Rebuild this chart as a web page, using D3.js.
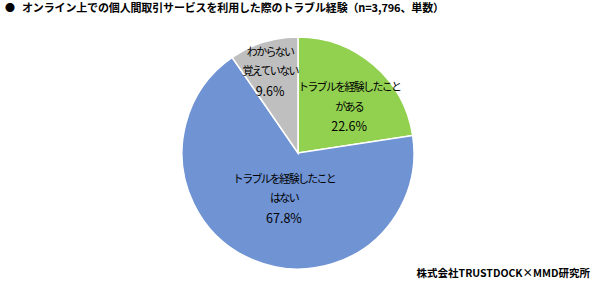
<!DOCTYPE html>
<html>
<head>
<meta charset="utf-8">
<script src="https://cdn.jsdelivr.net/npm/d3@7"></script>
<style>
  body { margin: 0; background: #fff; }
  svg { display: block; font-family: "Noto Sans CJK JP", "Noto Sans", sans-serif; }
</style>
</head>
<body>
<figure id="chart" style="margin:0"></figure>
<script>
// slice data
const categories = ["トラブルを経験したことがある", "トラブルを経験したことはない", "わからない・覚えていない"];
const values = [22.6, 67.8, 9.6];
const labelLines = [
  ["トラブルを経験したこと", "がある"],
  ["トラブルを経験したこと", "はない"],
  ["わからない", "覚えていない"]
];
const colors = ["#92D050", "#6F93D3", "#BFBFBF"];

const width = 600, height = 287;
const cx = 298, cy = 153, radius = 116;

const svg = d3.select("#chart").append("svg")
  .attr("width", width)
  .attr("height", height);

// title
svg.append("text")
  .attr("x", 5).attr("y", 12)
  .attr("font-size", 10)
  .attr("fill", "#000")
  .text("●");
svg.append("text")
  .attr("x", 22).attr("y", 12)
  .attr("font-size", 11).attr("font-weight", "bold")
  .attr("fill", "#000")
  .attr("textLength", 422)
  .text("オンライン上での個人間取引サービスを利用した際のトラブル経験（n=3,796、単数）");

const g = svg.append("g").attr("transform", `translate(${cx},${cy})`);

const pie = d3.pie().value(d => d).sort(null);
const arcs = pie(values);

const arc = d3.arc().innerRadius(0).outerRadius(radius);

g.selectAll("path.slice")
  .data(arcs).enter()
  .append("path")
  .attr("class", "slice")
  .attr("d", arc)
  .attr("fill", (d, i) => colors[i])
  .attr("stroke", "#fff")
  .attr("stroke-width", 1.5);

// label placement: radius fraction and angle shift (degrees) from slice middle
const labelRadius = [0.6, 0.4, 0.755];
const labelShift = [6.6, -5.8, -1.3];
arcs.forEach((d, i) => {
  const a = (d.startAngle + d.endAngle) / 2 + labelShift[i] * Math.PI / 180;
  const r = radius * labelRadius[i];
  const x = r * Math.sin(a), y = -r * Math.cos(a);
  const lines = labelLines[i].concat([d3.format(".1f")(values[i]) + "%"]);
  const t = g.append("text")
    .attr("text-anchor", "middle")
    .attr("dominant-baseline", "central")
    .attr("fill", "#000");
  lines.forEach((line, j) => {
    t.append("tspan")
      .attr("x", x)
      .attr("y", y + (j - 1) * 19.5)
      .attr("font-size", j === 2 ? 12.5 : 11)
      .attr("letter-spacing", j === 2 ? 0 : -1.7)
      .text(line);
  });
});

// source
svg.append("text")
  .attr("x", 590).attr("y", 277)
  .attr("text-anchor", "end")
  .attr("font-size", 10.5).attr("font-weight", "bold")
  .attr("fill", "#000")
  .text("株式会社TRUSTDOCK×MMD研究所");
</script>
</body>
</html>
